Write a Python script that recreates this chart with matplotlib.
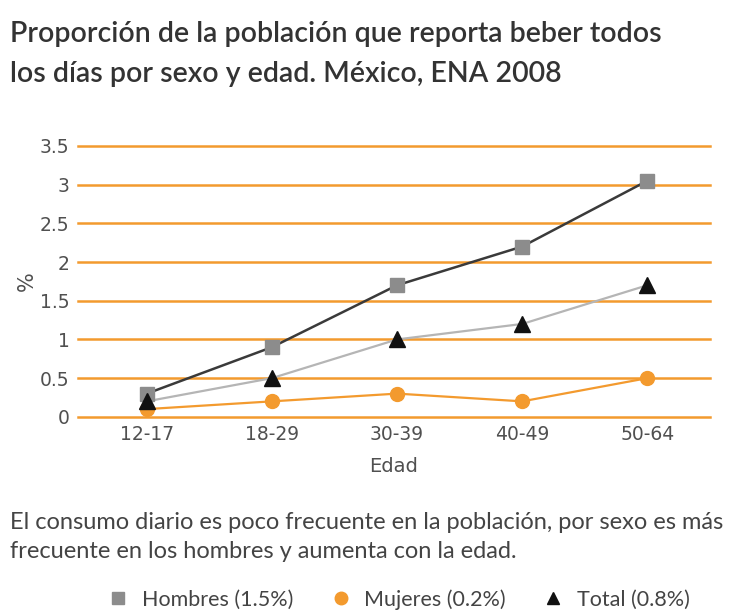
import numpy as np
import matplotlib.pyplot as plt
from matplotlib.lines import Line2D

edades = ["12-17", "18-29", "30-39", "40-49", "50-64"]
hombres = [0.3, 0.9, 1.7, 2.2, 3.05]
mujeres = [0.1, 0.2, 0.3, 0.2, 0.5]
total = [0.2, 0.5, 1.0, 1.2, 1.7]
yticks = [0, 0.5, 1, 1.5, 2, 2.5, 3, 3.5]
ytick_labels = ["0", "0.5", "1", "1.5", "2", "2.5", "3", "3.5"]

orange = "#F39A2E"
txt = "#505050"

fig = plt.figure(figsize=(7.35, 6.13), dpi=100)
ax = fig.add_axes([0.106, 0.320, 0.860, 0.442])

x = np.arange(len(edades))

for y in yticks:
    ax.axhline(y, color=orange, lw=1.8, zorder=1, clip_on=False)

ax.plot(x, total, color="#b5b5b5", lw=1.6, zorder=3)
ax.plot(x, hombres, color="#3a3a3a", lw=1.8, zorder=3)
ax.plot(x, mujeres, color=orange, lw=1.6, zorder=3)

ax.plot(x, hombres, ls="none", marker="s", ms=10, color="#8c8c8c", zorder=4, clip_on=False)
ax.plot(x, mujeres, ls="none", marker="o", ms=10, color=orange, zorder=4, clip_on=False)
ax.plot(x, total, ls="none", marker="^", ms=11, color="#111111", zorder=5, clip_on=False)

ax.set_xlim(-0.55, 4.5)
ax.set_ylim(0, 3.5)
ax.set_xticks(x)
ax.set_xticklabels(edades)
ax.set_yticks(yticks)
ax.set_yticklabels(ytick_labels)
ax.tick_params(length=0, labelsize=13.5, colors=txt, pad=6)
for s in ax.spines.values():
    s.set_visible(False)

ax.set_xlabel("Edad", fontsize=14, color=txt, labelpad=9)
ax.set_ylabel("%", fontsize=15, color=txt, labelpad=2)

fig.text(0.014, 0.932, "Proporción de la población que reporta beber todos",
         fontsize=20.5, fontfamily="Lato", fontweight="semibold", color="#333333")
fig.text(0.014, 0.867, "los días por sexo y edad. México, ENA 2008",
         fontsize=20.5, fontfamily="Lato", fontweight="semibold", color="#333333")

fig.text(0.014, 0.137, "El consumo diario es poco frecuente en la población, por sexo es más",
         fontsize=17, fontfamily="Lato", color="#444444")
fig.text(0.014, 0.090, "frecuente en los hombres y aumenta con la edad.",
         fontsize=17, fontfamily="Lato", color="#444444")

handles = [
    Line2D([], [], ls="none", marker="s", ms=9, color="#8c8c8c"),
    Line2D([], [], ls="none", marker="o", ms=9, color=orange),
    Line2D([], [], ls="none", marker="^", ms=9, color="#111111"),
]
labels = ["Hombres (1.5%)", "Mujeres (0.2%)", "Total (0.8%)"]
fig.legend(handles, labels, loc="center", bbox_to_anchor=(0.535, 0.022), ncol=3,
           frameon=False, prop={"family": "Lato", "size": 15.5}, handletextpad=0.1,
           columnspacing=1.2, labelcolor="#444444")

fig.savefig("out.png", dpi=100)
